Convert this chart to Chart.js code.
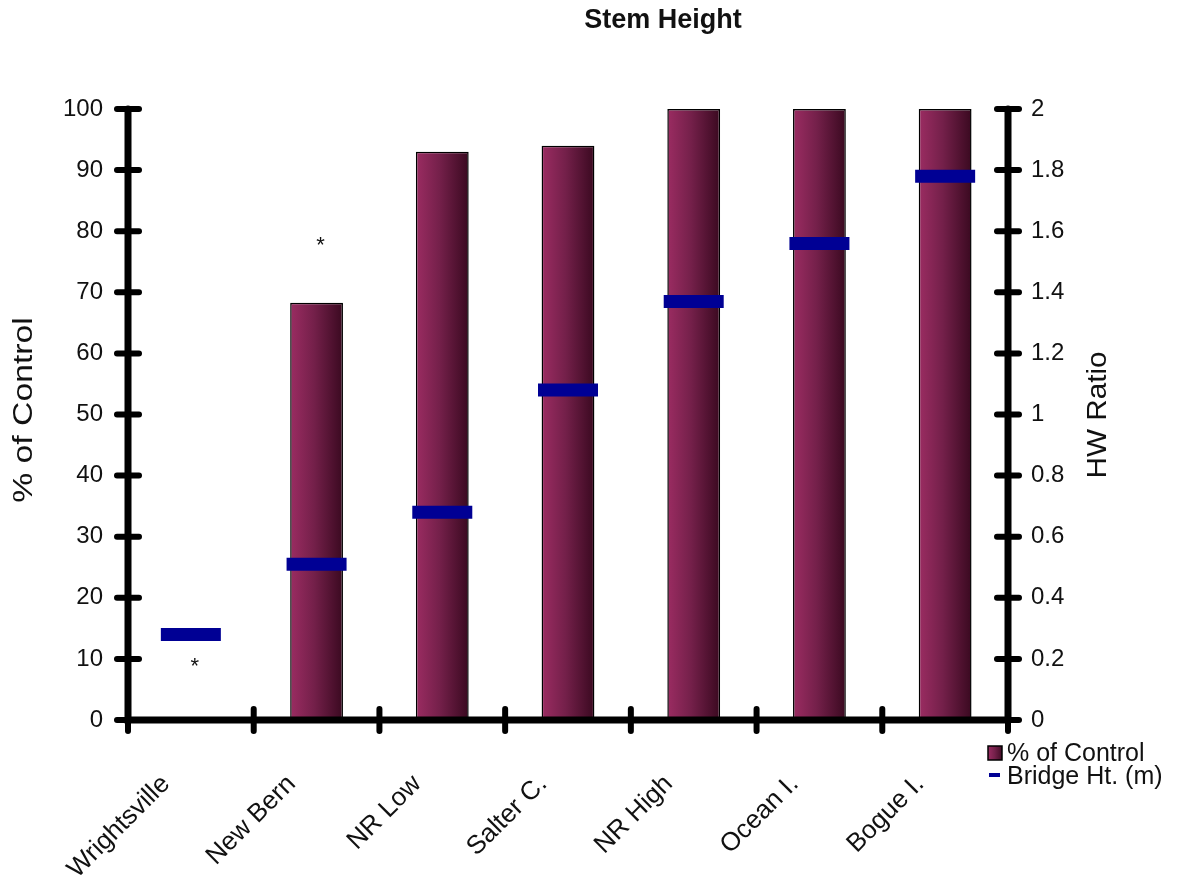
<!DOCTYPE html>
<html>
<head>
<meta charset="utf-8">
<title>Stem Height</title>
<script src="https://cdn.jsdelivr.net/npm/chart.js@4.4.1/dist/chart.umd.min.js"></script>
<style>
  html, body { margin: 0; padding: 0; background: #fff; }
  #wrap { width: 1178px; height: 884px; }
</style>
</head>
<body>
<div id="wrap"><canvas id="stemChart"></canvas></div>
<script>
// --- data ---
const sites = ['Wrightsville', 'New Bern', 'NR Low', 'Salter C.', 'NR High', 'Ocean I.', 'Bogue I.'];
const pctOfControl = [0, 68.3, 93, 94, 100, 100, 100];
const bridgeHt = [0.28, 0.51, 0.68, 1.08, 1.37, 1.56, 1.78];
// asterisk marks (left axis units), null = none
const sigMarks = [9.3, 78.2, null, null, null, null, null];
const leftTicks = { min: 0, max: 100, step: 10 };
const rightTicks = { min: 0, max: 2, step: 0.2 };

const FONT = "'Liberation Sans', Arial, sans-serif";
const barLight = '#9b2c62';
const barDark = '#3a0920';
const dashColor = '#000094';
const BAR_PCT = 0.42;

function barGradient(ctx, x0, x1) {
    const g = ctx.createLinearGradient(x0, 0, x1, 0);
    g.addColorStop(0, barLight);
    g.addColorStop(0.45, '#74204a');
    g.addColorStop(1, barDark);
    return g;
}

// rotated text reading bottom to top, stretched along its length
function verticalText(ctx, text, x, y, stretch) {
    ctx.save();
    ctx.translate(x, y);
    ctx.rotate(-Math.PI / 2);
    ctx.scale(stretch, 1);
    ctx.fillText(text, 0, 0);
    ctx.restore();
}

// axes, tick crosses, rotated labels, titles, stars and legend
const decorPlugin = {
    id: 'decor',
    afterDraw(chart) {
        const ctx = chart.ctx;
        const area = chart.chartArea;
        const xs = chart.scales.x;
        const yl = chart.scales.y;
        const yr = chart.scales.y2;
        ctx.save();
        ctx.strokeStyle = '#000';
        ctx.lineCap = 'round';

        // axis lines
        ctx.lineWidth = 7;
        ctx.beginPath();
        ctx.moveTo(area.left, area.top);
        ctx.lineTo(area.left, area.bottom);
        ctx.lineTo(area.right, area.bottom);
        ctx.moveTo(area.right, area.top);
        ctx.lineTo(area.right, area.bottom);
        ctx.stroke();

        // tick crosses on the value axes
        ctx.lineWidth = 6;
        yl.ticks.forEach(t => {
            const y = yl.getPixelForValue(t.value);
            ctx.beginPath();
            ctx.moveTo(area.left - 11, y);
            ctx.lineTo(area.left + 11, y);
            ctx.stroke();
        });
        yr.ticks.forEach(t => {
            const y = yr.getPixelForValue(t.value);
            ctx.beginPath();
            ctx.moveTo(area.right - 11, y);
            ctx.lineTo(area.right + 11, y);
            ctx.stroke();
        });
        // category boundaries on the x axis
        const step = (area.right - area.left) / sites.length;
        for (let i = 0; i <= sites.length; i++) {
            const x = area.left + i * step;
            ctx.beginPath();
            ctx.moveTo(x, area.bottom - 11);
            ctx.lineTo(x, area.bottom + 11);
            ctx.stroke();
        }

        // rotated category labels
        ctx.fillStyle = '#111';
        ctx.font = '26px ' + FONT;
        ctx.textAlign = 'right';
        ctx.textBaseline = 'middle';
        sites.forEach((name, i) => {
            const x = xs.getPixelForValue(i) - 25;
            ctx.save();
            ctx.translate(x, area.bottom + 60);
            ctx.rotate(-Math.PI / 4);
            ctx.fillText(name, 0, 0);
            ctx.restore();
        });

        // asterisks
        ctx.textAlign = 'center';
        ctx.font = '22px ' + FONT;
        sigMarks.forEach((v, i) => {
            if (v === null) return;
            ctx.fillText('*', xs.getPixelForValue(i) + 4, yl.getPixelForValue(v) + 4);
        });

        // title
        ctx.font = 'bold 27px ' + FONT;
        ctx.fillText('Stem Height', 663, 21);

        // axis titles
        ctx.font = '27px ' + FONT;
        verticalText(ctx, '% of Control', 25, 410, 1.25);
        verticalText(ctx, 'HW Ratio', 1099, 415, 1.1);

        // legend
        ctx.fillStyle = barGradient(ctx, 988, 1003);
        ctx.fillRect(988, 746, 14, 14);
        ctx.lineWidth = 1.5;
        ctx.strokeStyle = '#000';
        ctx.strokeRect(988, 746, 14, 14);
        ctx.fillStyle = dashColor;
        ctx.fillRect(989, 773, 11, 4);
        ctx.fillStyle = '#111';
        ctx.font = '25px ' + FONT;
        ctx.textAlign = 'left';
        ctx.fillText(chart.data.datasets[0].label, 1007, 754);
        ctx.fillText(chart.data.datasets[1].label, 1007, 777);
        ctx.restore();
    }
};

const chart = new Chart(document.getElementById('stemChart'), {
    type: 'bar',
    data: {
        labels: sites,
        datasets: [
            {
                label: '% of Control',
                data: pctOfControl,
                yAxisID: 'y',
                order: 1,
                categoryPercentage: 1,
                barPercentage: BAR_PCT,
                borderColor: '#000',
                borderWidth: 1.5,
                backgroundColor: function (c) {
                    const xs = c.chart.scales.x;
                    if (!xs || c.type !== 'data') return barDark;
                    const half = (xs.width / sites.length) * BAR_PCT / 2;
                    const cx = xs.getPixelForValue(c.dataIndex);
                    if (!isFinite(cx) || !isFinite(half) || half <= 0) return barDark;
                    return barGradient(c.chart.ctx, cx - half, cx + half);
                }
            },
            {
                type: 'line',
                label: 'Bridge Ht. (m)',
                data: bridgeHt,
                yAxisID: 'y2',
                order: 0,
                showLine: false,
                pointStyle: 'line',
                pointRadius: 30,
                pointHoverRadius: 30,
                pointBorderWidth: 13,
                pointHoverBorderWidth: 13,
                borderColor: dashColor,
                backgroundColor: dashColor
            }
        ]
    },
    options: {
        responsive: true,
        maintainAspectRatio: false,
        animation: false,
        layout: { padding: { top: 109, left: 0, right: 0, bottom: 0 } },
        plugins: {
            legend: { display: false },
            title: { display: false },
            tooltip: { enabled: false }
        },
        scales: {
            x: {
                offset: true,
                grid: { display: false, drawTicks: false },
                border: { display: false },
                ticks: { display: false },
                afterFit(s) { s.height = 164; }
            },
            y: {
                position: 'left',
                min: leftTicks.min,
                max: leftTicks.max,
                grid: { display: false, drawTicks: false },
                border: { display: false },
                ticks: {
                    stepSize: leftTicks.step,
                    padding: 25,
                    color: '#111',
                    font: { family: FONT, size: 24 }
                },
                afterFit(s) { s.width = 128; }
            },
            y2: {
                position: 'right',
                min: rightTicks.min,
                max: rightTicks.max,
                grid: { display: false, drawTicks: false },
                border: { display: false },
                ticks: {
                    stepSize: rightTicks.step,
                    padding: 23,
                    color: '#111',
                    font: { family: FONT, size: 24 },
                    callback: v => String(parseFloat(v.toFixed(1)))
                },
                afterFit(s) { s.width = 170; }
            }
        }
    },
    plugins: [decorPlugin]
});
</script>
</body>
</html>
